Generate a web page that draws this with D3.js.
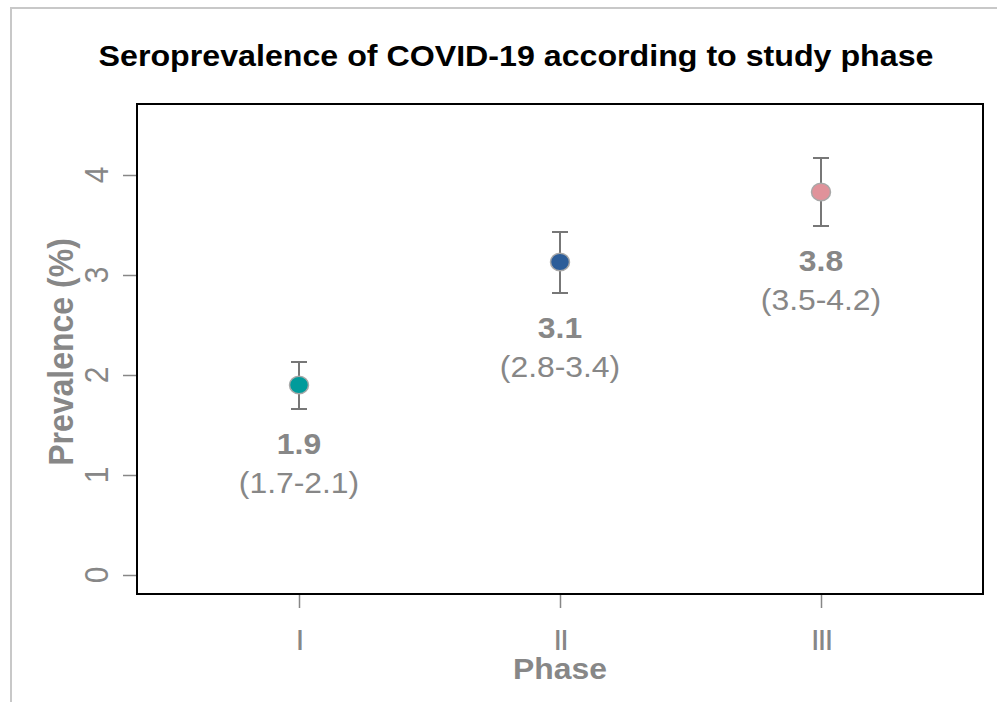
<!DOCTYPE html>
<html>
<head>
<meta charset="utf-8">
<script src="https://cdn.jsdelivr.net/npm/d3@7"></script>
<style>
  body { margin: 0; background: #fff; }
  svg { display: block; font-family: "Liberation Sans", Arial, sans-serif; }
</style>
</head>
<body>
<svg id="chart" width="997" height="702"></svg>
<script>
  // data
  var phases = ['I', 'II', 'III']
  var prevalence = [1.9, 3.13, 3.83]
  var lower = [1.66, 2.82, 3.49]
  var upper = [2.13, 3.43, 4.17]
  var valueLabels = ['1.9', '3.1', '3.8']
  var ciLabels = ['(1.7-2.1)', '(2.8-3.4)', '(3.5-4.2)']
  var pointColors = ['#009b9b', '#2c5d99', '#e0929a']
  var yTicks = [0, 1, 2, 3, 4]

  var grey = '#878787'
  var stretch = 1.08 // text in the picture is a bit wide

  var svg = d3.select('#chart')
  var box = { left: 137, right: 983, top: 104, bottom: 594 }

  var x = d3.scalePoint()
    .domain(phases)
    .range([299, 821])
  var y = d3.scaleLinear()
    .domain([-0.19, 4.71])
    .range([box.bottom, box.top])

  function label(g, px, py, str, size, weight, color, rot) {
    var t = 'translate(' + px + ',' + py + ') scale(' + stretch + ',1)'
    if (rot) t += ' rotate(' + rot + ')'
    return g.append('text')
      .attr('transform', t)
      .attr('text-anchor', 'middle')
      .attr('font-size', size)
      .attr('font-weight', weight)
      .attr('fill', color)
      .text(str)
  }

  // outer frame (top and left edges only)
  svg.append('path')
    .attr('d', 'M11,702 V8 H997')
    .attr('fill', 'none')
    .attr('stroke', '#c8c8c8')
    .attr('stroke-width', 2)

  // title
  label(svg, 516, 66, 'Seroprevalence of COVID-19 according to study phase', 29.8, 'bold', '#000')

  // y axis
  var yAxis = svg.append('g')
    .attr('transform', 'translate(' + box.left + ',0)')
    .call(d3.axisLeft(y).tickValues(yTicks).tickSize(14).tickFormat(''))
  yAxis.select('.domain').remove()
  yAxis.selectAll('.tick line').attr('stroke', grey).attr('stroke-width', 1.5)
  yTicks.forEach(function (v) {
    label(svg, 108, y(v), String(v), 30, 'normal', grey, -90)
  })
  label(svg, 73, 352, 'Prevalence (%)', 32, 'bold', grey, -90)

  // x axis
  var xAxis = svg.append('g')
    .attr('transform', 'translate(0,' + box.bottom + ')')
    .call(d3.axisBottom(x).tickSize(14).tickFormat(''))
  xAxis.select('.domain').remove()
  xAxis.selectAll('.tick line').attr('stroke', grey).attr('stroke-width', 1.5)
  phases.forEach(function (p) {
    label(svg, x(p), 650, p, 30, 'normal', grey).attr('letter-spacing', -2)
  })
  label(svg, 560, 679, 'Phase', 29.5, 'bold', grey)

  // plot box
  svg.append('rect')
    .attr('x', box.left)
    .attr('y', box.top)
    .attr('width', box.right - box.left)
    .attr('height', box.bottom - box.top)
    .attr('fill', 'none')
    .attr('stroke', '#000')
    .attr('stroke-width', 2)

  // error bars
  var bars = svg.append('g').attr('stroke', '#777').attr('stroke-width', 2)
  phases.forEach(function (p, i) {
    var cx = x(p)
    bars.append('line').attr('x1', cx).attr('x2', cx).attr('y1', y(lower[i])).attr('y2', y(upper[i]))
    bars.append('line').attr('x1', cx - 8).attr('x2', cx + 8).attr('y1', y(lower[i])).attr('y2', y(lower[i]))
    bars.append('line').attr('x1', cx - 8).attr('x2', cx + 8).attr('y1', y(upper[i])).attr('y2', y(upper[i]))
  })

  // points
  svg.append('g').selectAll('ellipse')
    .data(phases)
    .join('ellipse')
    .attr('cx', function (d) { return x(d) })
    .attr('cy', function (d, i) { return y(prevalence[i]) })
    .attr('rx', 9.5)
    .attr('ry', 8.8)
    .attr('fill', function (d, i) { return pointColors[i] })
    .attr('stroke', '#a8a8a8')
    .attr('stroke-width', 1.5)

  // value labels below each bar
  phases.forEach(function (p, i) {
    var base = y(lower[i]) + 45
    label(svg, x(p), base, valueLabels[i], 29.5, 'bold', grey)
    label(svg, x(p), base + 39, ciLabels[i], 29.5, 'normal', grey)
  })
</script>
</body>
</html>
